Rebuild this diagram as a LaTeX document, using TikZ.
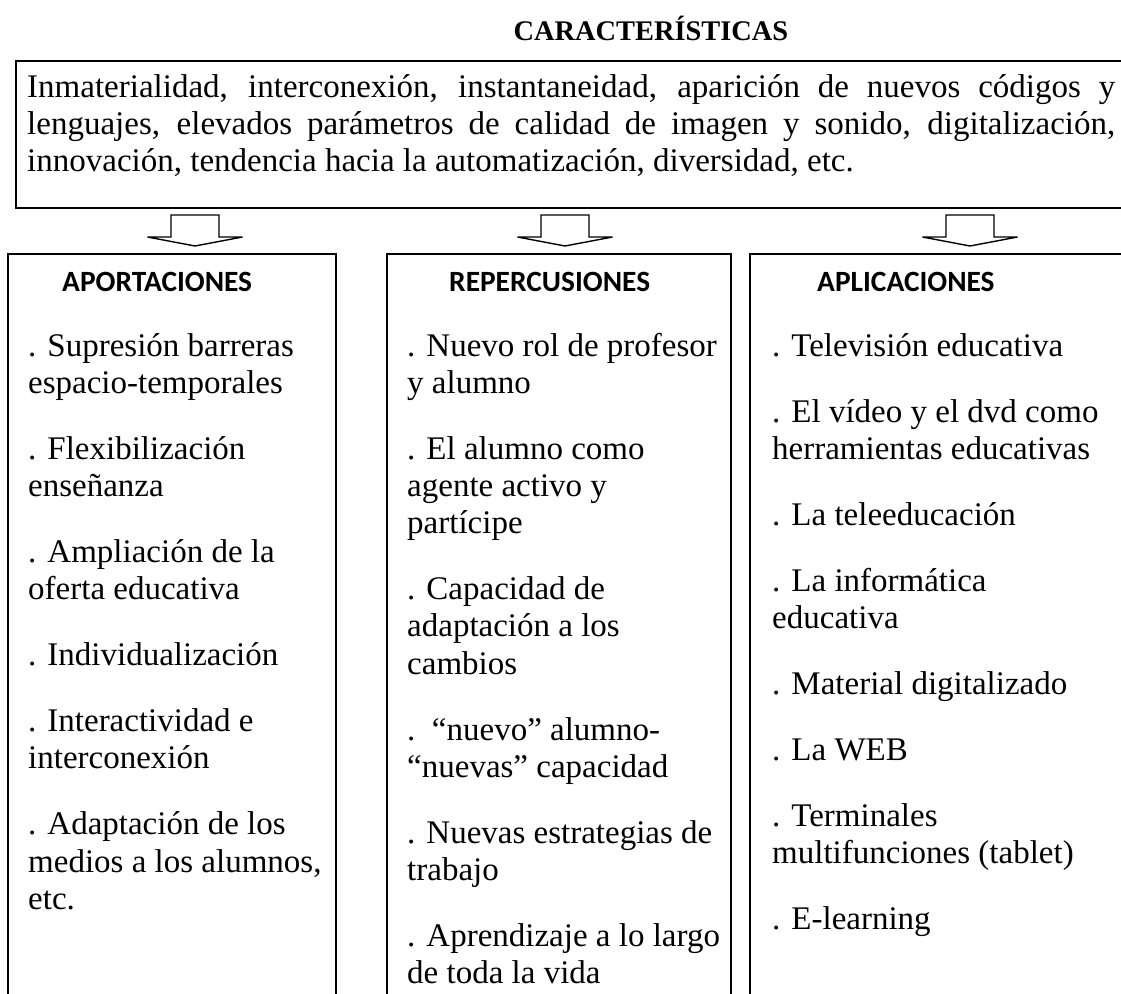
\documentclass[tikz,border=0pt]{standalone}
\usepackage{fontspec}
\setmainfont{Liberation Serif}
\newfontfamily\hdrfont{Carlito}
\begin{document}
\begin{tikzpicture}[x=1pt,y=-1pt,
  frame/.style={draw=black, line width=1.8pt, inner sep=0pt, anchor=north west},
  blockarrow/.style={draw=black, line width=1.4pt, fill=white, line join=miter},
  hdr/.style={anchor=base west, inner sep=0pt, font=\hdrfont\bfseries\fontsize{29.4}{33}\selectfont},
  body/.style={anchor=base west, inner sep=0pt, font=\fontsize{33}{37.2}\selectfont},
  titlestyle/.style={anchor=base, inner sep=0pt, font=\bfseries\fontsize{28.4}{32}\selectfont},
  barrow/.pic={\path[blockarrow] (-24,-31) -- (24,-31) -- (24,-9) -- (47.5,-9) -- (0,0) -- (-47.5,-9) -- (-24,-9) -- cycle;}
]
\useasboundingbox (0,0) rectangle (1121,993);
\clip (0,0) rectangle (1121,993);
\fill[white] (0,0) rectangle (1121,993);

% title
\node[titlestyle] (title) at (651,40) {CARACTERÍSTICAS};

% top box
\node[frame, minimum width=1140pt, minimum height=147pt] (topbox) at (15,60) {};
\node[body] (toptext) at (27,97) {\parbox[t]{1100pt}{\fontsize{33}{37.2}\selectfont
\makebox[1088pt][s]{Inmaterialidad, interconexión, instantaneidad, aparición de nuevos códigos y}\\
\makebox[1088pt][s]{lenguajes, elevados parámetros de calidad de imagen y sonido, digitalización,}\\
innovación, tendencia hacia la automatización, diversidad, etc.}};

% arrows
\coordinate (a1) at (195,246);
\coordinate (a2) at (565,246);
\coordinate (a3) at (970,246);
\pic at (a1) {barrow};
\pic at (a2) {barrow};
\pic at (a3) {barrow};

% column boxes
\node[frame, minimum width=328pt, minimum height=800pt] (box1) at (7,253) {};
\node[frame, minimum width=344pt, minimum height=800pt] (box2) at (386,253) {};
\node[frame, minimum width=500pt, minimum height=800pt] (box3) at (749,253) {};

% headers
\node[hdr] (h1) at (62,291) {APORTACIONES};
\node[hdr] (h2) at (449,291) {REPERCUSIONES};
\node[hdr] (h3) at (817,291) {APLICACIONES};

% column texts
\node[body] (c1) at (28,356) {\parbox[t]{320pt}{\raggedright\fontsize{33}{37.2}\selectfont
. Supresión barreras\\ espacio-temporales\\[28.8pt]
. Flexibilización\\ enseñanza\\[28.8pt]
. Ampliación de la\\ oferta educativa\\[28.8pt]
. Individualización\\[28.8pt]
. Interactividad e\\ interconexión\\[28.8pt]
. Adaptación de los\\ medios a los alumnos,\\ etc.}};

\node[body] (c2) at (407,356) {\parbox[t]{340pt}{\raggedright\fontsize{33}{37.2}\selectfont
. Nuevo rol de profesor\\ y alumno\\[28.8pt]
. El alumno como\\ agente activo y\\ partícipe\\[28.8pt]
. Capacidad de\\ adaptación a los\\ cambios\\[28.8pt]
.\ \ “nuevo” alumno-\\ “nuevas” capacidad\\[28.8pt]
. Nuevas estrategias de\\ trabajo\\[28.8pt]
. Aprendizaje a lo largo\\ de toda la vida}};

\node[body] (c3) at (772,356) {\parbox[t]{345pt}{\raggedright\fontsize{33}{37.2}\selectfont
. Televisión educativa\\[28.8pt]
. El vídeo y el dvd como\\ herramientas educativas\\[28.8pt]
. La teleeducación\\[28.8pt]
. La informática\\ educativa\\[28.8pt]
. Material digitalizado\\[28.8pt]
. La WEB\\[28.8pt]
. Terminales\\ multifunciones (tablet)\\[28.8pt]
. E-learning}};
\end{tikzpicture}
\end{document}
